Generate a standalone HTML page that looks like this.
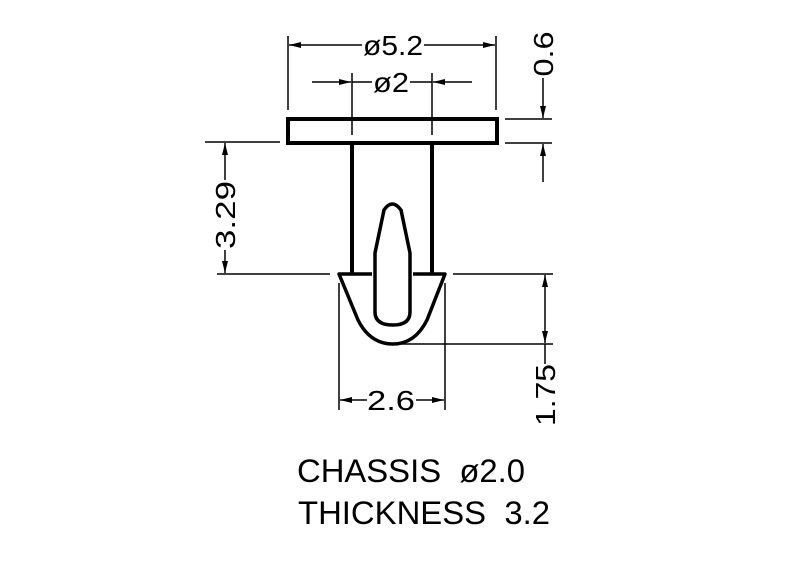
<!DOCTYPE html>
<html><head><meta charset="utf-8"><style>html,body{margin:0;padding:0;background:#fff}svg{display:block}</style></head>
<body>
<svg width="800" height="576" viewBox="0 0 800 576" xmlns="http://www.w3.org/2000/svg" font-family="Liberation Sans, sans-serif">
<defs>
<marker id="a" viewBox="0 0 12 6" refX="12" refY="3" markerWidth="12" markerHeight="6" markerUnits="userSpaceOnUse" orient="auto"><path d="M0,0 L12,3 L0,6 Z" fill="#000"/></marker>
</defs>
<g stroke="#000" fill="none">
<rect x="288" y="119" width="209" height="24" stroke-width="4"/>
<line x1="352" y1="143" x2="352" y2="274" stroke-width="4"/>
<line x1="432" y1="143" x2="432" y2="274" stroke-width="4"/>
<path d="M372,274 L339,274 L358,320 Q370,344 393,344 Q415,344 427,320 L445,274 L413,274" stroke-width="3.5" stroke-linejoin="round"/>
<path d="M375,253 L384,210 Q392,198 401,210 L410,253 L410,312 Q410,325 393,325 Q375,325 375,312 Z" stroke-width="3.5"/>
<g stroke-width="1.5">
<line x1="288" y1="36" x2="288" y2="110"/>
<line x1="496" y1="36" x2="496" y2="110"/>
<line x1="362" y1="45" x2="289" y2="45" marker-end="url(#a)"/>
<line x1="424" y1="45" x2="495" y2="45" marker-end="url(#a)"/>
<line x1="352" y1="73" x2="352" y2="135"/>
<line x1="432" y1="73" x2="432" y2="135"/>
<line x1="312" y1="82" x2="351" y2="82" marker-end="url(#a)"/>
<line x1="472" y1="82" x2="433" y2="82" marker-end="url(#a)"/>
<line x1="352" y1="82" x2="372" y2="82"/>
<line x1="410" y1="82" x2="432" y2="82"/>
<line x1="505" y1="119" x2="552" y2="119"/>
<line x1="505" y1="143" x2="552" y2="143"/>
<line x1="543" y1="78" x2="543" y2="118" marker-end="url(#a)"/>
<line x1="543" y1="182" x2="543" y2="144" marker-end="url(#a)"/>
<line x1="205" y1="142" x2="280" y2="142"/>
<line x1="217" y1="274" x2="330" y2="274"/>
<line x1="225" y1="180" x2="225" y2="143" marker-end="url(#a)"/>
<line x1="225" y1="250" x2="225" y2="273" marker-end="url(#a)"/>
<line x1="453" y1="274" x2="553" y2="274"/>
<line x1="400" y1="344" x2="553" y2="344"/>
<line x1="545" y1="309" x2="545" y2="275" marker-end="url(#a)"/>
<line x1="545" y1="309" x2="545" y2="343" marker-end="url(#a)"/>
<line x1="545" y1="344" x2="545" y2="364"/>
<line x1="367" y1="400" x2="340" y2="400" marker-end="url(#a)"/>
<line x1="416" y1="400" x2="444" y2="400" marker-end="url(#a)"/>
<line x1="339" y1="283" x2="339" y2="410"/>
<line x1="445" y1="283" x2="445" y2="410"/>
</g>
</g>
<g fill="#000" font-size="28">
<text x="393" y="55" text-anchor="middle" textLength="60" lengthAdjust="spacingAndGlyphs">ø5.2</text>
<text x="391" y="92" text-anchor="middle" textLength="36" lengthAdjust="spacingAndGlyphs">ø2</text>
<text x="391" y="410" text-anchor="middle" textLength="48" lengthAdjust="spacingAndGlyphs">2.6</text>
<text transform="translate(553,54) rotate(-90)" text-anchor="middle" textLength="45" lengthAdjust="spacingAndGlyphs">0.6</text>
<text transform="translate(235,215) rotate(-90)" text-anchor="middle" textLength="68" lengthAdjust="spacingAndGlyphs">3.29</text>
<text transform="translate(555,395) rotate(-90)" text-anchor="middle" textLength="62" lengthAdjust="spacingAndGlyphs">1.75</text>
<text x="297" y="482" font-size="32" textLength="228" lengthAdjust="spacingAndGlyphs">CHASSIS&#160;&#160;ø2.0</text>
<text x="298" y="524" font-size="32" textLength="252" lengthAdjust="spacingAndGlyphs">THICKNESS&#160;&#160;3.2</text>
</g>
</svg>
</body></html>
